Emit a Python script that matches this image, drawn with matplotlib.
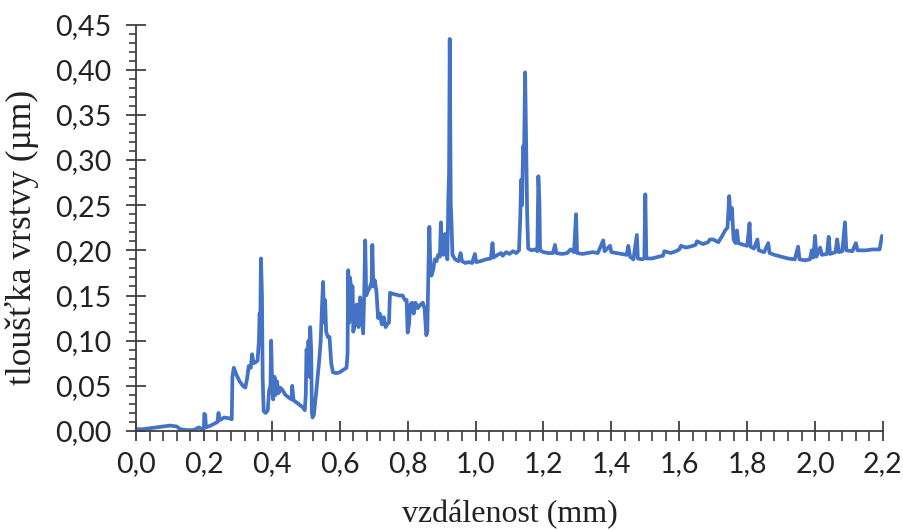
import matplotlib
matplotlib.use("Agg")
import matplotlib.pyplot as plt
from matplotlib.ticker import MultipleLocator, FuncFormatter

# Layer thickness profile along the measured distance
distance_mm = [
    0.000, 0.020, 0.040, 0.060, 0.080, 0.100, 0.120, 0.130, 0.150, 0.170,
    0.185, 0.195, 0.200, 0.201, 0.204, 0.206, 0.220, 0.240, 0.243, 0.246,
    0.260, 0.275, 0.282, 0.284, 0.288, 0.295, 0.305, 0.315, 0.322, 0.328,
    0.332, 0.338, 0.342, 0.346, 0.352, 0.358, 0.362, 0.364, 0.366, 0.368,
    0.371, 0.373, 0.376, 0.382, 0.388, 0.392, 0.396, 0.398, 0.401, 0.404,
    0.408, 0.411, 0.415, 0.420, 0.425, 0.432, 0.440, 0.450, 0.458, 0.460,
    0.464, 0.475, 0.485, 0.492, 0.497, 0.500, 0.502, 0.506, 0.508, 0.511,
    0.513, 0.516, 0.518, 0.520, 0.524, 0.530, 0.535, 0.540, 0.544, 0.548,
    0.551, 0.554, 0.557, 0.560, 0.565, 0.570, 0.575, 0.580, 0.590, 0.600,
    0.612, 0.620, 0.623, 0.625, 0.628, 0.630, 0.634, 0.638, 0.640, 0.645,
    0.650, 0.655, 0.660, 0.665, 0.669, 0.672, 0.675, 0.678, 0.683, 0.688,
    0.694, 0.696, 0.699, 0.703, 0.708, 0.713, 0.718, 0.724, 0.730, 0.735,
    0.740, 0.745, 0.748, 0.755, 0.765, 0.775, 0.785, 0.792, 0.797, 0.800,
    0.804, 0.808, 0.813, 0.818, 0.823, 0.830, 0.838, 0.845, 0.850, 0.855,
    0.858, 0.861, 0.864, 0.867, 0.870, 0.875, 0.880, 0.885, 0.890, 0.895,
    0.898, 0.901, 0.905, 0.910, 0.913, 0.917, 0.920, 0.922, 0.924, 0.927,
    0.929, 0.932, 0.940, 0.950, 0.956, 0.960, 0.970, 0.980, 0.990, 0.998,
    1.002, 1.015, 1.030, 1.045, 1.050, 1.053, 1.065, 1.075, 1.080, 1.090,
    1.100, 1.110, 1.120, 1.128, 1.132, 1.134, 1.137, 1.140, 1.143, 1.146,
    1.149, 1.152, 1.155, 1.165, 1.175, 1.182, 1.185, 1.188, 1.190, 1.200,
    1.215, 1.228, 1.234, 1.238, 1.255, 1.270, 1.280, 1.290, 1.296, 1.299,
    1.315, 1.330, 1.345, 1.360, 1.376, 1.380, 1.396, 1.400, 1.415, 1.430,
    1.445, 1.450, 1.455, 1.465, 1.475, 1.478, 1.490, 1.497, 1.500, 1.503,
    1.520, 1.540, 1.552, 1.556, 1.575, 1.590, 1.600, 1.605, 1.620, 1.640,
    1.648, 1.652, 1.670, 1.685, 1.690, 1.700,
    1.715, 1.725, 1.735, 1.742, 1.747, 1.751, 1.755, 1.760, 1.766, 1.770,
    1.774, 1.790, 1.800, 1.807, 1.810, 1.820, 1.830, 1.834, 1.850, 1.862,
    1.866, 1.880, 1.900, 1.920, 1.940, 1.950, 1.954, 1.970, 1.985, 1.990,
    1.995, 2.000, 2.004, 2.015, 2.020, 2.035, 2.040, 2.044, 2.060, 2.065,
    2.070, 2.080, 2.088, 2.092, 2.110, 2.120, 2.125, 2.150, 2.170, 2.190,
    2.197, 2.200,
]

thickness_um = [
    0.002, 0.002, 0.003, 0.004, 0.005, 0.006, 0.005, 0.002, 0.001, 0.001,
    0.004, 0.002, 0.003, 0.019, 0.018, 0.004, 0.006, 0.010, 0.020, 0.012,
    0.015, 0.014, 0.013, 0.060, 0.070, 0.063, 0.055, 0.050, 0.048, 0.060,
    0.072, 0.070, 0.085, 0.075, 0.076, 0.078, 0.100, 0.130, 0.120, 0.191,
    0.150, 0.060, 0.022, 0.020, 0.023, 0.045, 0.050, 0.100, 0.050, 0.035,
    0.060, 0.040, 0.055, 0.042, 0.048, 0.045, 0.040, 0.037, 0.035, 0.050,
    0.034, 0.031, 0.028, 0.026, 0.023, 0.040, 0.090, 0.085, 0.100, 0.060,
    0.115, 0.090, 0.020, 0.015, 0.018, 0.040, 0.060, 0.080, 0.100, 0.140,
    0.165, 0.120, 0.145, 0.110, 0.104, 0.104, 0.075, 0.065, 0.064, 0.065,
    0.068, 0.070, 0.085, 0.178, 0.120, 0.170, 0.158, 0.160, 0.110, 0.120,
    0.140, 0.115, 0.148, 0.125, 0.108, 0.150, 0.211, 0.150, 0.155, 0.158,
    0.165, 0.206, 0.160, 0.167, 0.155, 0.125, 0.130, 0.118, 0.126, 0.115,
    0.118, 0.120, 0.153, 0.152, 0.151, 0.150, 0.150, 0.145, 0.145, 0.109,
    0.118, 0.140, 0.142, 0.130, 0.142, 0.136, 0.140, 0.142, 0.135, 0.106,
    0.110, 0.175, 0.226, 0.180, 0.172, 0.178, 0.190, 0.188, 0.195, 0.193,
    0.231, 0.200, 0.195, 0.218, 0.200, 0.190, 0.260, 0.285, 0.434, 0.250,
    0.233, 0.195, 0.190, 0.188, 0.197, 0.188, 0.186, 0.187, 0.186, 0.196,
    0.187, 0.188, 0.190, 0.191, 0.208, 0.192, 0.195, 0.197, 0.194, 0.198,
    0.196, 0.199, 0.197, 0.200, 0.240, 0.278, 0.250, 0.315, 0.310, 0.397,
    0.320, 0.240, 0.202, 0.200, 0.201, 0.199, 0.282, 0.255, 0.200, 0.198,
    0.197, 0.197, 0.206, 0.197, 0.196, 0.197, 0.201, 0.198, 0.240, 0.197,
    0.196, 0.197, 0.198, 0.197, 0.211, 0.199, 0.205, 0.198, 0.197, 0.196,
    0.195, 0.205, 0.193, 0.190, 0.217, 0.191, 0.190, 0.191, 0.262, 0.191,
    0.191, 0.193, 0.194, 0.199, 0.197, 0.199, 0.201, 0.205, 0.203, 0.205,
    0.206, 0.210, 0.207, 0.209, 0.212, 0.212,
    0.209, 0.215, 0.222, 0.225, 0.260, 0.235, 0.247, 0.212, 0.208, 0.222,
    0.208, 0.206, 0.205, 0.230, 0.204, 0.202, 0.212, 0.200, 0.198, 0.208,
    0.197, 0.195, 0.193, 0.191, 0.190, 0.204, 0.190, 0.189, 0.190, 0.200,
    0.192, 0.216, 0.193, 0.203, 0.195, 0.196, 0.215, 0.196, 0.198, 0.212,
    0.198, 0.199, 0.231, 0.200, 0.199, 0.208, 0.200, 0.200, 0.201, 0.201,
    0.216, 0.214,
]

x_ticks = [0.0, 0.2, 0.4, 0.6, 0.8, 1.0, 1.2, 1.4, 1.6, 1.8, 2.0, 2.2]
y_ticks = [0.00, 0.05, 0.10, 0.15, 0.20, 0.25, 0.30, 0.35, 0.40, 0.45]

x_label = "vzdálenost (mm)"
y_label = "tloušťka vrstvy (µm)"

line_color = "#4472C4"
axis_color = "#404040"

fig = plt.figure(figsize=(9.04, 5.3), dpi=100)
ax = fig.add_axes([136 / 904, 1 - 431 / 530, 747 / 904, 406.5 / 530])

ax.plot(distance_mm, thickness_um, color=line_color, linewidth=2.7,
        solid_joinstyle="round", solid_capstyle="round")

ax.set_xlim(0, 2.2)
ax.set_ylim(0, 0.45)
ax.set_xticks(x_ticks)
ax.set_yticks(y_ticks)
ax.xaxis.set_minor_locator(MultipleLocator(0.04))
ax.yaxis.set_minor_locator(MultipleLocator(0.01))
ax.xaxis.set_major_formatter(FuncFormatter(lambda v, p: f"{v:.1f}".replace(".", ",")))
ax.yaxis.set_major_formatter(FuncFormatter(lambda v, p: f"{v:.2f}".replace(".", ",")))

for side in ("top", "right"):
    ax.spines[side].set_visible(False)
for side in ("left", "bottom"):
    ax.spines[side].set_color(axis_color)
    ax.spines[side].set_linewidth(1.3)

ax.tick_params(axis="x", which="major", direction="inout", length=15,
               width=1.3, color=axis_color, pad=7, labelsize=20.5,
               labelcolor="#222222")
ax.tick_params(axis="y", which="major", direction="inout", length=14,
               width=1.3, color=axis_color, pad=11, labelsize=20.5,
               labelcolor="#222222")
ax.tick_params(axis="x", which="minor", direction="out", length=7,
               width=1.2, color=axis_color)
ax.tick_params(axis="y", which="minor", direction="out", length=5,
               width=1.2, color=axis_color)
for lab in ax.get_xticklabels() + ax.get_yticklabels():
    lab.set_fontfamily("Lato")

fig.text(510 / 904, 1 - 515 / 530, x_label, ha="center", va="center",
         fontsize=23, family="Liberation Serif", color="#222222")
fig.text(22 / 904, 1 - 237 / 530, y_label, ha="center", va="center",
         rotation=90, fontsize=25.5, family="Liberation Serif", color="#222222")

fig.savefig("out.png", dpi=100)
